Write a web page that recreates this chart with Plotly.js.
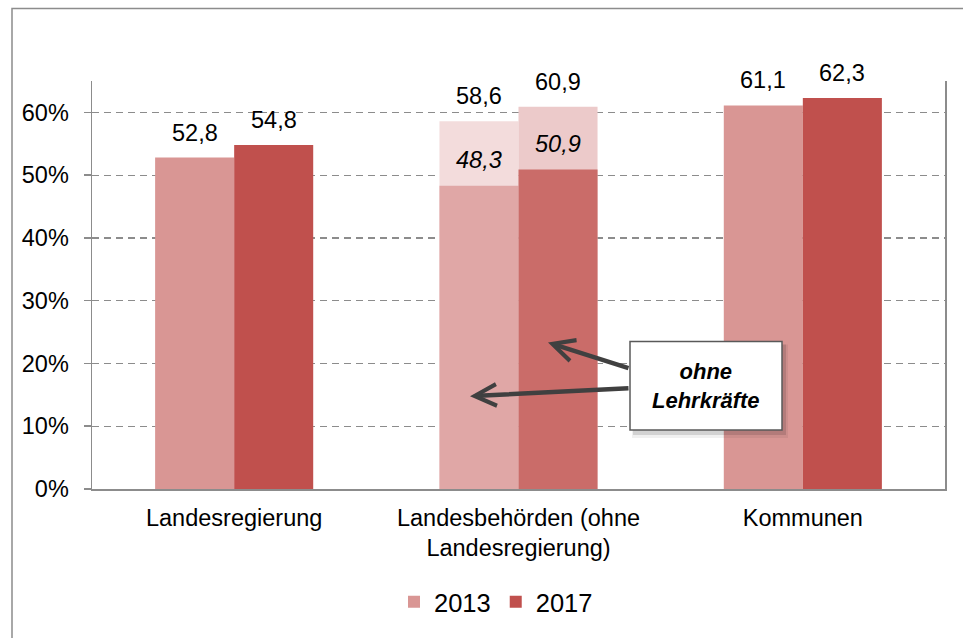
<!DOCTYPE html>
<html>
<head>
<meta charset="utf-8">
<script src="https://cdn.plot.ly/plotly-3.0.1.min.js"></script>
<style>html,body{margin:0;padding:0;background:#fff;}</style>
</head>
<body>
<div id="chart" style="width:963px;height:638px;"></div>
<script>
// ---- data ----
const categories = ['Landesregierung', 'Landesbehörden (ohne<br>Landesregierung)', 'Kommunen'];
const years = ['2013', '2017'];
const values2013 = [52.8, 58.6, 61.1];
const values2017 = [54.8, 60.9, 62.3];
const ohneLehrkraefte2013 = [null, 48.3, null];
const ohneLehrkraefte2017 = [null, 50.9, null];
const yTickVals = [0, 10, 20, 30, 40, 50, 60];
const yTickText = ['0%', '10%', '20%', '30%', '40%', '50%', '60%'];
const calloutText = 'ohne<br>Lehrkräfte';

// ---- styles ----
const FONT = 'Arial, "Liberation Sans", sans-serif';
const colors2013 = ['#D99694', '#F3DCDC', '#D99694'];
const colors2017 = ['#C0504D', '#ECCACA', '#C0504D'];
const colorOhne2013 = '#E0A7A6';
const colorOhne2017 = '#CA6C69';
const axisColor = '#8C8C8C';
const FS = 23.5;

const fmt = v => v.toFixed(1).replace('.', ',');

const traces = [
  {type:'bar', name: years[0], x: categories, y: values2013, offsetgroup:'a',
   marker:{color: colors2013, line:{width:0}}, hoverinfo:'none'},
  {type:'bar', name: years[1], x: categories, y: values2017, offsetgroup:'b',
   marker:{color: colors2017, line:{width:0}}, hoverinfo:'none'},
  {type:'bar', name: years[0] + ' ohne Lehrkräfte', x: categories, y: ohneLehrkraefte2013, offsetgroup:'a',
   marker:{color: colorOhne2013}, showlegend:false, hoverinfo:'none'},
  {type:'bar', name: years[1] + ' ohne Lehrkräfte', x: categories, y: ohneLehrkraefte2017, offsetgroup:'b',
   marker:{color: colorOhne2017}, showlegend:false, hoverinfo:'none'}
];

const annotations = [];
const halfBar = 39.5;
function addLabels(vals, shift, italic, ys) {
  vals.forEach((v, i) => {
    if (v === null || v === undefined) return;
    annotations.push({
      x: categories[i], y: v, xref:'x', yref:'y', xshift: shift, yshift: ys,
      yanchor:'bottom', showarrow:false,
      text: italic ? '<i>' + fmt(v) + '</i>' : fmt(v),
      font:{family:FONT, size:FS, color:'#000'}
    });
  });
}
addLabels(values2013, -halfBar, false, 10);
addLabels(values2017, halfBar, false, 10);
addLabels(ohneLehrkraefte2013, -halfBar, true, 11);
addLabels(ohneLehrkraefte2017, halfBar, true, 11);

// callout arrows and text (paper coordinates of the plot area)
const px = p => (p - 92) / 853;
const py = p => (491.3 - p) / 410.3;
annotations.push({
  xref:'paper', yref:'paper', x: px(548), y: py(344), ax: 82, ay: 26,
  showarrow:true, arrowhead:5, arrowsize:0.95, arrowwidth:4.5, arrowcolor:'#404040', text:''
});
annotations.push({
  xref:'paper', yref:'paper', x: px(470), y: py(398), ax: 160, ay: -8,
  showarrow:true, arrowhead:5, arrowsize:0.95, arrowwidth:4.5, arrowcolor:'#404040', text:''
});
annotations.push({
  xref:'paper', yref:'paper', x: px(706), y: py(388), xanchor:'center', yanchor:'middle',
  showarrow:false, text:'<b><i>' + calloutText + '</i></b>',
  font:{family:FONT, size:22, color:'#000'}
});

const shapes = [
  // outer frame
  {type:'rect', xref:'paper', yref:'paper', x0: px(12), x1: px(975), y0: py(650), y1: py(8),
   line:{color:axisColor, width:1.5}, fillcolor:'rgba(0,0,0,0)', layer:'below'},
  // callout shadow (soft)
  {type:'rect', xref:'paper', yref:'paper', x0: px(632), x1: px(788), y0: py(440), y1: py(346),
   line:{width:0}, fillcolor:'rgba(0,0,0,0.06)', layer:'above'},
  {type:'rect', xref:'paper', yref:'paper', x0: px(633), x1: px(786), y0: py(437), y1: py(346),
   line:{width:0}, fillcolor:'rgba(0,0,0,0.12)', layer:'above'},
  // callout box
  {type:'rect', xref:'paper', yref:'paper', x0: px(630), x1: px(782), y0: py(432), y1: py(343),
   line:{color:'#595959', width:1.5}, fillcolor:'#ffffff', layer:'above'}
];

const layout = {
  width: 963, height: 638,
  margin: {l:92, r:18, t:81, b:146.7, pad:0},
  paper_bgcolor:'#ffffff', plot_bgcolor:'#ffffff',
  barmode:'group', bargap:0.444, bargroupgap:0,
  font:{family:FONT, size:FS, color:'#000'},
  showlegend:true,
  legend:{orientation:'h', x: px(496), xanchor:'center', y: py(605), yanchor:'middle',
          font:{family:FONT, size:25.5, color:'#000'}, itemwidth:30, traceorder:'normal',
          bgcolor:'rgba(0,0,0,0)'},
  xaxis:{type:'category', showline:true, linecolor:axisColor, linewidth:1.5,
         ticks:'', showgrid:false, zeroline:false, ticklabelstandoff:7,
         tickfont:{family:FONT, size:FS, color:'#000'}, fixedrange:true},
  yaxis:{range:[0, 65], tickmode:'array', tickvals: yTickVals, ticktext: yTickText,
         showline:true, linecolor:axisColor,
         linewidth:1.5, mirror:true, ticks:'outside', ticklen:7, tickcolor:axisColor, tickwidth:1.5,
         showgrid:true, gridcolor:axisColor, gridwidth:1.3, griddash:'7px,5px', zeroline:false,
         ticklabelstandoff:10,
         tickfont:{family:FONT, size:FS, color:'#000'}, fixedrange:true},
  annotations: annotations,
  shapes: shapes
};

Plotly.newPlot('chart', traces, layout, {displayModeBar:false, staticPlot:true});
</script>
</body>
</html>
